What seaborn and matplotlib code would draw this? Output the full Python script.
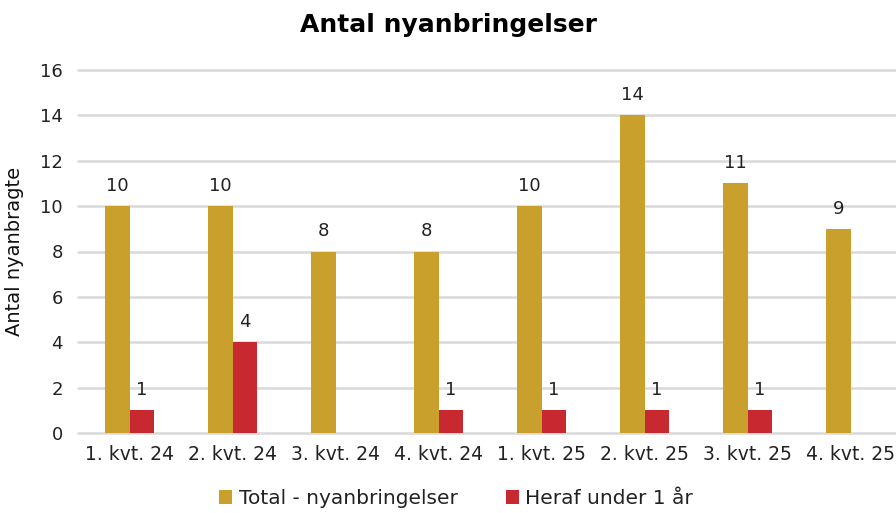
import matplotlib
matplotlib.use("Agg")
import matplotlib.pyplot as plt
import seaborn as sns
import pandas as pd

categories = ["1. kvt. 24", "2. kvt. 24", "3. kvt. 24", "4. kvt. 24",
              "1. kvt. 25", "2. kvt. 25", "3. kvt. 25", "4. kvt. 25"]
total = [10, 10, 8, 8, 10, 14, 11, 9]
under1 = [1, 4, 0, 1, 1, 1, 1, 0]
series_names = ["Total - nyanbringelser", "Heraf under 1 år"]
colors = ["#C9A02C", "#C8282F"]
yticks = [0, 2, 4, 6, 8, 10, 12, 14, 16]

df = pd.DataFrame({
    "Kvartal": categories * 2,
    "Antal": total + under1,
    "Serie": [series_names[0]] * len(categories) + [series_names[1]] * len(categories),
})

sns.set_theme(style="white")
plt.rcParams["font.family"] = ["DejaVu Sans"]

fig = plt.figure(figsize=(8.96, 5.13), dpi=100)
ax = fig.add_axes([78 / 896, 80 / 513, 824 / 896, 363 / 513])

sns.barplot(data=df, x="Kvartal", y="Antal", hue="Serie", order=categories,
            hue_order=series_names, palette=colors, width=0.48, gap=0,
            linewidth=0, saturation=1, ax=ax)

for cont in ax.containers:
    labels = [f"{int(v)}" if v > 0 else "" for v in cont.datavalues]
    ax.bar_label(cont, labels=labels, padding=8, fontsize=13, color="#222222")

ax.set_ylim(0, 16)
ax.set_xlim(-0.5, len(categories) - 0.5)
ax.set_yticks(yticks)
ax.grid(axis="y", color="#D9D9D9", linewidth=1.8)
for gl in ax.get_ygridlines():
    gl.set_clip_on(False)
ax.set_axisbelow(True)
for s in ax.spines.values():
    s.set_visible(False)
ax.tick_params(axis="both", length=0, labelsize=13, colors="#222222")
ax.tick_params(axis="x", labelsize=13.5, pad=9)
ax.tick_params(axis="y", pad=11)
ax.set_xlabel("")
ax.set_ylabel("Antal nyanbragte", fontsize=14, color="#111111")
ax.yaxis.set_label_coords(-54 / 824, 0.5)

fig.suptitle("Antal nyanbringelser", fontsize=18, fontweight="bold", y=0.975, x=0.5,
             color="#000000")

leg = ax.legend(loc="upper center", bbox_to_anchor=(378 / 824, -0.105), ncol=2,
                frameon=False, fontsize=14.5, handlelength=0.65, handleheight=0.65,
                handletextpad=0.3, columnspacing=2.4)
for t in leg.get_texts():
    t.set_color("#222222")

fig.savefig("out.png", dpi=100)
